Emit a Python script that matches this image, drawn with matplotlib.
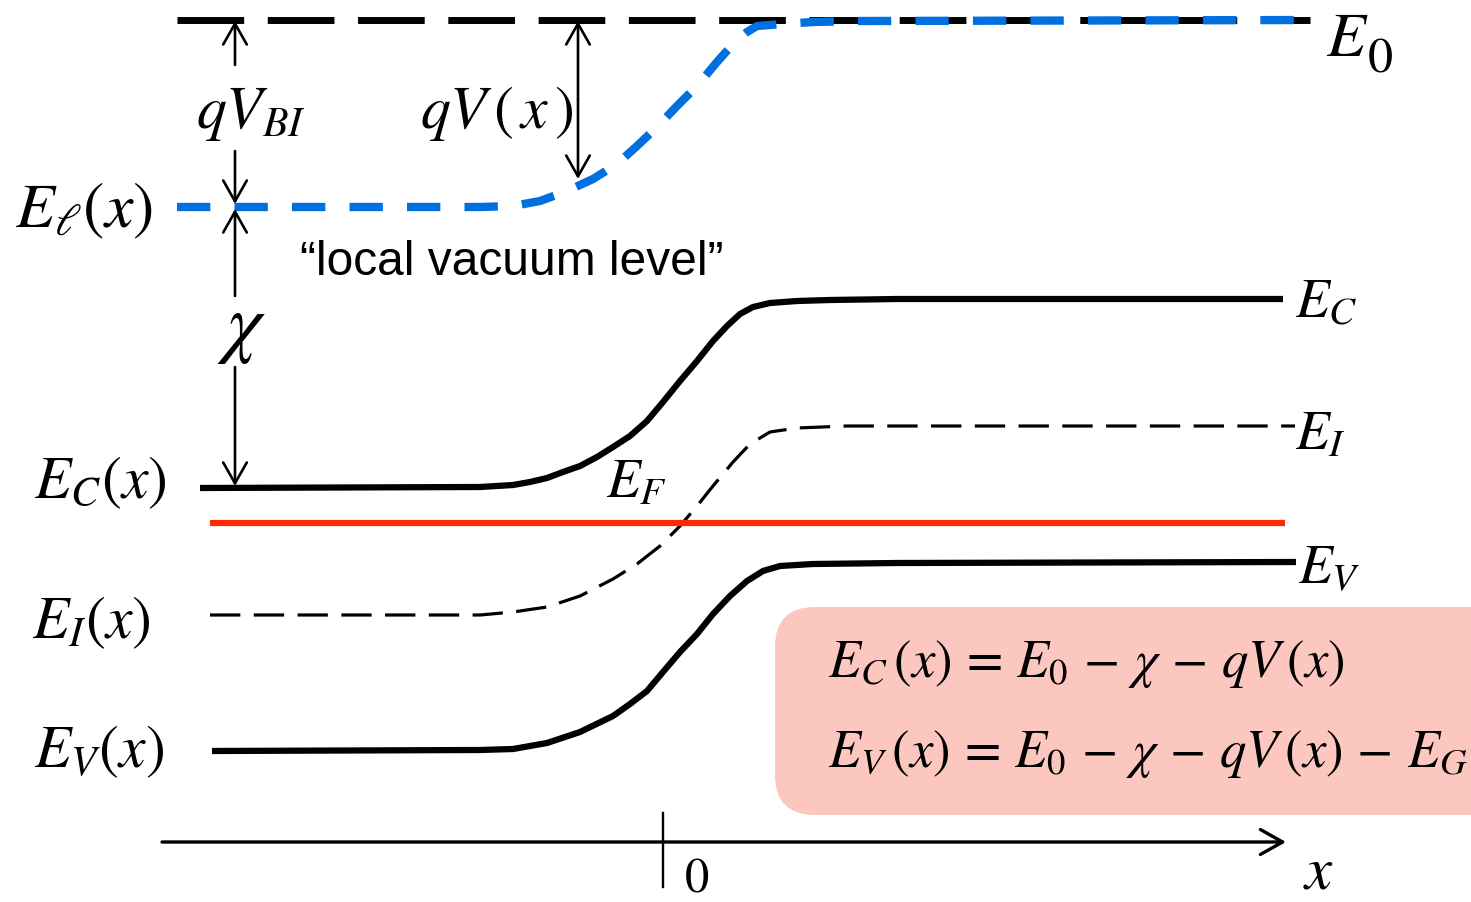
import matplotlib
matplotlib.use("Agg")
import matplotlib.pyplot as plt
from matplotlib.patches import FancyBboxPatch

plt.rcParams['mathtext.fontset'] = 'stix'
plt.rcParams['font.family'] = ['Liberation Sans', 'DejaVu Sans']

# band edges (pixel coords, y grows downward)
vac_x = [177, 480, 513, 540, 567, 593, 617, 637, 657, 677, 697, 717, 733, 747, 757, 783, 813, 860, 1310]
vac_y = [208, 208, 207, 202, 192, 180, 165, 147, 128, 107, 87, 63, 45, 33, 27, 25, 23, 22, 21]

ec_x = [200, 480, 513, 530, 547, 563, 580, 597, 613, 630, 647, 663, 680, 697, 713, 727, 740,
        753, 770, 797, 830, 897, 1283]
ec_y = [489, 488, 486, 483, 479, 473, 467, 458, 448, 437, 422, 403, 382, 362, 342, 327, 315,
        308, 304, 302, 301, 300, 300]

ei_x = [210, 480, 513, 547, 580, 613, 637, 660, 680, 697, 713, 733, 750, 770, 797, 847, 897, 1295]
ei_y = [616, 616, 613, 608, 597, 580, 565, 547, 527, 507, 487, 463, 445, 433, 429, 427, 427, 427]

ev_x = [212, 480, 513, 547, 580, 613, 630, 647, 663, 680, 697, 713, 730, 747, 763, 780, 813,
        897, 1296]
ev_y = [752, 751, 750, 744, 733, 717, 705, 692, 673, 653, 635, 615, 597, 582, 572, 567, 565,
        564, 563]

e0_x = [177, 1310]
e0_y = [21, 21]
ef_x = [210, 1285]
ef_y = [524, 524]

fig = plt.figure(figsize=(14.71, 9.03), dpi=100)
ax = fig.add_axes([0, 0, 1, 1])
ax.set_xlim(0, 1471)
ax.set_ylim(903, 0)
ax.axis('off')

# formula box
box = FancyBboxPatch((775, 608), 760, 208, boxstyle="round,pad=0,rounding_size=40",
                     fc='#FCC7BE', ec='none', zorder=0)
ax.add_patch(box)

ax.plot(e0_x, e0_y, color='black', lw=5, dashes=(9.6, 3.4), dash_capstyle='butt', zorder=2)
ax.plot(vac_x, vac_y, color='#0070E0', lw=6, dashes=(4.0, 2.9), dash_capstyle='butt', zorder=3)
ax.plot(ec_x, ec_y, color='black', lw=4.5, solid_capstyle='butt', solid_joinstyle='round', zorder=2)
ax.plot(ei_x, ei_y, color='black', lw=2.3, dashes=(9.5, 4.2), dash_capstyle='butt', zorder=2)
ax.plot(ev_x, ev_y, color='black', lw=4.5, solid_capstyle='butt', solid_joinstyle='round', zorder=2)
ax.plot(ef_x, ef_y, color='#FF2A00', lw=4.5, solid_capstyle='butt', zorder=2)


def arrow(x0, y0, x1, y1, lw=1.9, style='->,head_length=1.5,head_width=0.85'):
    ax.annotate('', xy=(x1, y1), xytext=(x0, y0),
                arrowprops=dict(arrowstyle=style, lw=lw, color='black',
                                shrinkA=0, shrinkB=0), zorder=4)


# qV_BI
arrow(235, 66, 235, 22)
arrow(235, 152, 235, 205)
# chi
arrow(235, 297, 235, 210)
arrow(235, 368, 235, 487)
# qV(x)
arrow(578, 100, 578, 22)
arrow(578, 100, 578, 180)
# x axis
arrow(162, 843, 1286, 843, lw=2.4, style='->,head_length=1.6,head_width=0.9')
ax.plot([663, 663], [814, 888], color='black', lw=1.7)

big = 46
mid = 43
small = 40

ax.text(1326, 56, r'$E$', fontsize=big, va='baseline', ha='left')
ax.text(1367, 72, r'$\mathrm{0}$', fontsize=36, va='baseline', ha='left')
ax.text(15, 227, r'$E_{\ell}(x)$', fontsize=big, va='baseline', ha='left')
ax.text(196, 128, r'$qV_{BI}$', fontsize=mid, va='baseline', ha='left')
ax.text(420, 128, r'$qV\,(\,x\,)$', fontsize=mid, va='baseline', ha='left')
ax.text(242, 330, r'$\chi$', fontsize=56, va='center', ha='center')
ax.text(300, 275, '\u201clocal vacuum level\u201d', fontsize=34.5, va='baseline', ha='left')

ax.text(34, 498, r'$E_C(x)$', fontsize=mid, va='baseline', ha='left')
ax.text(32, 638, r'$E_I(x)$', fontsize=mid, va='baseline', ha='left')
ax.text(34, 767, r'$E_V(x)$', fontsize=mid, va='baseline', ha='left')
ax.text(606, 498, r'$E_F$', fontsize=small, va='baseline', ha='left')

ax.text(1295, 317, r'$E_C$', fontsize=small, va='baseline', ha='left')
ax.text(1295, 450, r'$E_I$', fontsize=small, va='baseline', ha='left')
ax.text(1298, 583, r'$E_V$', fontsize=small, va='baseline', ha='left')

ax.text(828, 677, r'$E_C\,(x)\,=\,E_0\,-\,\chi\,-\,qV\,(x)$', fontsize=38, va='baseline', ha='left')
ax.text(828, 767, r'$E_V\,(x)\,=\,E_0\,-\,\chi\,-\,qV\,(x)\,-\,E_G$', fontsize=38, va='baseline', ha='left')

ax.text(697, 892, r'$\mathrm{0}$', fontsize=35, va='baseline', ha='center')
ax.text(1318, 889, r'$x$', fontsize=44, va='baseline', ha='center')

fig.savefig('out.png', dpi=100)
